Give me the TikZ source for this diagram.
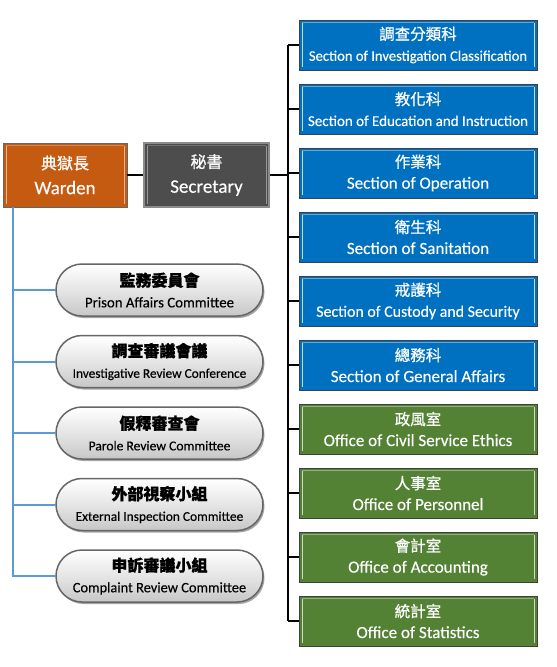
\documentclass[tikz,border=0pt]{standalone}
\usepackage{fontspec}
\setmainfont{Carlito}
\newfontfamily\cjk[FakeBold=0.8]{Noto Sans CJK TC}
\newfontfamily\engtext[FakeBold=0.3]{Carlito}
\usetikzlibrary{shadows,shapes.misc}
\definecolor{boxblue}{HTML}{0070C0}
\definecolor{boxgreen}{HTML}{548235}
\definecolor{wardenorange}{HTML}{C55A11}
\definecolor{secgray}{HTML}{4D4D4D}
\definecolor{treeblue}{HTML}{5B9BD5}
\newcommand\twolines[3]{{\cjk\fontsize{15.5}{21}\selectfont #2}\\{\engtext\fontsize{#1}{21}\selectfont #3}}
\newcommand\pilltext[3]{{\cjk\bfseries\fontsize{16}{21}\selectfont #2}\\{\engtext\fontsize{#1}{21}\selectfont #3}}
\tikzset{
  bevel/.style={path picture={
    \draw[#1, line width=1pt]
      ([xshift=3pt,yshift=-3pt]path picture bounding box.north west) -- ([xshift=3pt,yshift=3pt]path picture bounding box.south west)
      ([xshift=-3pt,yshift=-3pt]path picture bounding box.north east) -- ([xshift=-3pt,yshift=3pt]path picture bounding box.south east);
    \draw[#1, line width=0.4pt, opacity=0.5]
      ([xshift=3pt,yshift=-2pt]path picture bounding box.north west) -- ([xshift=-3pt,yshift=-2pt]path picture bounding box.north east);
  }},
  unitbox/.style={draw=black!75, line width=0.9pt, minimum width=238pt, minimum height=50pt,
    inner sep=0pt, text=white, align=center, font=\fontsize{17}{21}\selectfont,
    drop shadow={shadow xshift=1.2pt, shadow yshift=-1.2pt, opacity=0.45, fill=black}},
  bluebox/.style={unitbox, fill=boxblue, bevel=white!75!boxblue},
  greenbox/.style={unitbox, fill=boxgreen, bevel=white!70!boxgreen},
  headbox/.style={minimum width=124pt, minimum height=64pt, inner sep=0pt, text=white, align=center,
    font=\fontsize{19}{25}\selectfont,
    drop shadow={shadow xshift=1.2pt, shadow yshift=-1.2pt, opacity=0.45, fill=black}},
  pill/.style={rounded rectangle, draw=black!60, line width=1.5pt, minimum width=207pt, minimum height=52pt,
    inner sep=0pt, align=center, font=\fontsize{14}{21}\selectfont,
    top color=white, bottom color=black!22, middle color=black!10,
    drop shadow={shadow xshift=1.5pt, shadow yshift=-2pt, opacity=0.5, fill=black!70}},
  darkline/.style={draw=black, line width=1.1pt},
  blueline/.style={draw=treeblue, line width=2pt},
}
\begin{document}
\begin{tikzpicture}[x=1pt,y=-1pt]
\useasboundingbox (0,0) rectangle (557,667);

% head boxes
\node[headbox, fill=wardenorange, draw=black!60, line width=0.9pt, bevel=white!55!wardenorange] (warden) at (65,175)
  {{\cjk\fontsize{16}{25}\selectfont 典獄長}\\{\engtext\fontsize{19}{25}\selectfont Warden}};
\node[headbox, fill=secgray, draw=black!45, line width=1.6pt, minimum width=125pt, bevel=black!40] (secretary) at (206.5,175)
  {{\cjk\fontsize{16}{25}\selectfont 秘書}\\{\engtext\fontsize{19}{25}\selectfont Secretary}};

% right column
\node[bluebox] (u1) at (418,45)  {\twolines{14.6}{調查分類科}{Section of Investigation Classification}};
\node[bluebox] (u2) at (418,109) {\twolines{15}{教化科}{Section of Education and Instruction}};
\node[bluebox] (u3) at (418,173) {\twolines{17}{作業科}{Section of Operation}};
\node[bluebox] (u4) at (418,237) {\twolines{17}{衛生科}{Section of Sanitation}};
\node[bluebox] (u5) at (418,301) {\twolines{15.9}{戒護科}{Section of Custody and Security}};
\node[bluebox] (u6) at (418,365) {\twolines{17}{總務科}{Section of General Affairs}};
\node[greenbox] (u7) at (418,429) {\twolines{17}{政風室}{Office of Civil Service Ethics}};
\node[greenbox] (u8) at (418,493) {\twolines{17}{人事室}{Office of Personnel}};
\node[greenbox] (u9) at (418,557) {\twolines{17}{會計室}{Office of Accounting}};
\node[greenbox] (u10) at (418,621) {\twolines{17}{統計室}{Office of Statistics}};

% pills
\node[pill] (p1) at (159.5,290) {\pilltext{14.8}{監務委員會}{Prison Affairs Committee}};
\node[pill] (p2) at (159.5,361.5) {\pilltext{13.3}{調查審議會議}{Investigative Review Conference}};
\node[pill] (p3) at (159.5,433) {\pilltext{13.6}{假釋審查會}{Parole Review Committee}};
\node[pill] (p4) at (159.5,504.5) {\pilltext{13.4}{外部視察小組}{External Inspection Committee}};
\node[pill] (p5) at (159.5,576) {\pilltext{14.4}{申訴審議小組}{Complaint Review Committee}};

% connectors: right tree
\coordinate (trunk) at (288,175);
\draw[darkline] (warden.east) -- (secretary.west);
\draw[darkline] (secretary.east) -- (trunk);
\draw[darkline] (u1.west -| trunk) -- (u10.west -| trunk);
\foreach \i in {1,...,10}{
  \draw[darkline] (u\i.west -| trunk) -- (u\i.west);
}

% connectors: left tree
\coordinate (ltrunk) at (13,207);
\draw[blueline] (ltrunk) |- (p5.west);
\foreach \i in {1,...,4}{
  \draw[blueline] (p\i.west -| ltrunk) -- (p\i.west);
}
\end{tikzpicture}
\end{document}
